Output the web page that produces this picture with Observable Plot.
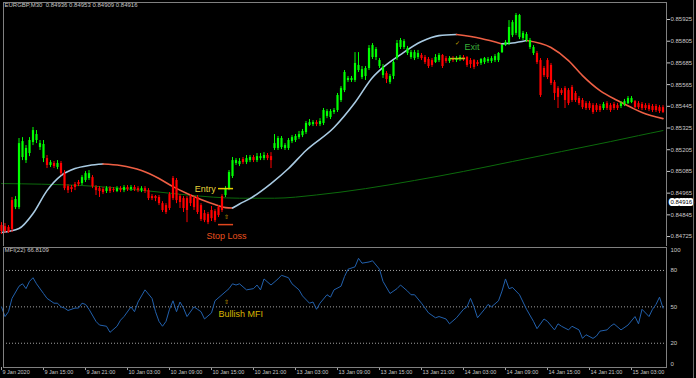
<!DOCTYPE html>
<html><head><meta charset="utf-8">
<script src="https://cdn.jsdelivr.net/npm/d3@7"></script>
<script src="https://cdn.jsdelivr.net/npm/@observablehq/plot@0.6"></script>
<style>
html,body{margin:0;padding:0;background:#000;}
#chart{position:relative;width:696px;height:378px;background:#000;overflow:hidden;}
#chart svg{position:absolute;left:0;}
#chart::after{content:"";position:absolute;left:693px;top:0;width:1px;height:378px;background:#6a6a6a;}
</style></head><body><div id="chart"></div>
<script>
// ---- EURGBP M30 candles (prices in 1/100000) ----
const open = [
84786,84780,84775,84924,84885,84885,85162,85145,85184,85245,
85256,85217,85156,85156,85118,85129,85107,85129,85073,85001,
84996,85012,85024,85018,85035,85046,85051,84996,84990,84985,
84974,84990,84985,84974,84990,84979,84996,84985,84996,84990,
84979,84990,84979,84946,84946,84941,84907,84896,84957,85046,
85035,84946,84935,84935,84946,84935,84941,84896,84852,84847,
84869,84863,84885,84946,84952,84990,85057,85129,85123,85151,
85134,85145,85162,85145,85156,85156,85173,85167,85212,85212,
85217,85212,85212,85250,85256,85272,85283,85300,85339,85344,
85355,85344,85350,85389,85383,85411,85422,85477,85532,85588,
85588,85588,85643,85604,85610,85654,85715,85715,85665,85615,
85626,85577,85610,85709,85770,85770,85737,85715,85709,85715,
85726,85715,85704,85698,85687,85698,85726,85709,85693,85709,
85698,85704,85715,85715,85698,85698,85687,85682,85687,85693,
85693,85698,85698,85742,85781,85792,85836,85848,85825,85820,
85809,85770,85737,85737,85698,85654,85698,85671,85577,85543,
85532,85543,85532,85549,85516,85488,85477,85460,85460,85449,
85449,85444,85433,85460,85449,85455,85449,85444,85455,85460,
85466,85471,85460,85455,85449,85449,85444,85444,85438,85438];
const high = [
84802,84797,84786,84941,84946,85267,85272,85228,85272,85328,
85311,85256,85256,85173,85145,85140,85145,85140,85090,85012,
85007,85024,85035,85062,85084,85090,85062,85007,85001,84996,
85001,85001,84996,85001,85001,85007,85007,85007,85007,85001,
85001,85001,84990,84957,84952,84952,84918,84907,84968,85057,
85046,84957,84946,84946,84957,84946,84952,84907,84869,84858,
84891,84874,84896,84957,85001,85090,85162,85156,85156,85162,
85173,85173,85173,85184,85184,85189,85184,85189,85289,85278,
85278,85239,85267,85283,85289,85306,85317,85361,85372,85366,
85366,85377,85433,85427,85427,85433,85516,85554,85643,85610,
85610,85742,85742,85665,85665,85781,85792,85770,85709,85676,
85637,85621,85698,85809,85820,85814,85776,85754,85754,85754,
85737,85726,85715,85709,85731,85737,85731,85720,85720,85720,
85720,85726,85726,85720,85709,85704,85698,85709,85715,85715,
85720,85731,85742,85787,85809,85919,85919,85958,85953,85859,
85853,85820,85781,85748,85709,85665,85709,85682,85588,85554,
85543,85554,85543,85560,85527,85499,85488,85471,85471,85460,
85460,85455,85466,85471,85460,85466,85460,85471,85483,85499,
85499,85477,85471,85466,85460,85460,85455,85455,85449,85449];
const low = [
84736,84742,84742,84747,84874,84874,85145,85129,85167,85228,
85239,85201,85134,85101,85107,85101,85095,85062,84979,84963,
84968,84979,85001,85007,85024,85035,84990,84952,84941,84957,
84963,84963,84968,84968,84968,84968,84974,84974,84974,84968,
84968,84963,84924,84924,84918,84896,84858,84847,84869,84924,
84907,84880,84858,84802,84891,84869,84847,84808,84802,84791,
84808,84802,84830,84858,84941,84979,85046,85118,85112,85123,
85123,85134,85134,85134,85145,85145,85145,85101,85201,85201,
85206,85201,85201,85239,85245,85261,85272,85289,85333,85333,
85333,85333,85339,85377,85372,85400,85411,85466,85521,85577,
85577,85577,85632,85593,85588,85643,85704,85698,85654,85599,
85571,85566,85593,85698,85759,85759,85726,85704,85698,85704,
85698,85676,85654,85660,85682,85687,85654,85682,85682,85687,
85687,85693,85693,85660,85654,85648,85665,85671,85676,85682,
85682,85687,85687,85737,85776,85781,85825,85836,85814,85809,
85798,85759,85726,85676,85494,85604,85593,85560,85477,85433,
85505,85433,85449,85466,85466,85449,85427,85422,85422,85400,
85411,85411,85422,85422,85411,85422,85422,85433,85444,85455,
85460,85433,85427,85422,85422,85416,85411,85411,85405,85405];
const close = [
84753,84753,84747,84764,84930,85239,85250,85212,85256,85311,
85289,85239,85234,85118,85134,85112,85129,85073,84990,84979,
84985,84996,85012,85051,85073,85073,85001,84979,84974,84968,
84990,84974,84979,84990,84979,84996,84985,84996,84985,84979,
84990,84974,84935,84935,84935,84907,84869,84858,84880,84935,
84924,84913,84880,84869,84907,84885,84858,84819,84813,84802,
84824,84813,84841,84869,84990,85079,85145,85145,85140,85134,
85156,85162,85145,85167,85167,85173,85156,85145,85239,85267,
85267,85228,85256,85272,85278,85289,85306,85350,85355,85355,
85344,85361,85422,85416,85416,85422,85505,85543,85632,85599,
85599,85682,85671,85648,85654,85765,85781,85759,85698,85660,
85593,85610,85687,85792,85809,85803,85765,85742,85742,85737,
85709,85687,85665,85671,85715,85726,85665,85693,85709,85698,
85709,85715,85704,85671,85676,85660,85676,85704,85709,85704,
85709,85720,85737,85781,85798,85881,85908,85947,85947,85848,
85842,85809,85770,85687,85505,85615,85604,85571,85516,85494,
85516,85477,85460,85477,85477,85460,85438,85433,85433,85411,
85422,85422,85455,85433,85422,85433,85433,85460,85471,85488,
85488,85438,85438,85433,85433,85427,85422,85422,85416,85411];

// ---- fast smoothed MA (sampled at bar index) ----
const maIdx = [0,5,9,13,17,21,25,29,34,40,45,49,53,57,61,64,66,68,71,77,82,87,95,101,106,109,114,120,125,130,137,143,146,150,157,162,166,171,176,180,183,189];
const maVal = [84747,84769,84852,84979,85062,85101,85118,85126,85118,85090,85046,85001,84963,84930,84902,84885,84883,84905,84935,85018,85101,85201,85328,85466,85604,85660,85731,85803,85836,85842,85820,85790,85795,85809,85770,85698,85615,85532,85477,85438,85411,85377];
// ---- slow MA ----
const slowIdx = [0,23,43,53,68,78,90,104,118,132,146,160,174,182,189];
const slowVal = [85018,85007,84975,84955,84937,84937,84955,84990,85035,85085,85140,85195,85250,85283,85311];

// ---- MFI(22) ----
const mfiIdx = [0,1,2,3,5,6,7,8,9,10,12,13,15,16,17,18,19,21,22,23,24,25,27,28,30,31,33,34,35,37,38,39,41,43,44,45,46,47,48,49,50,51,52,53,55,56,57,58,60,61,63,65,66,67,68,70,72,73,74,75,77,79,80,82,83,85,86,88,89,90,91,93,94,95,97,98,99,101,102,103,105,106,108,109,111,113,114,116,117,118,120,122,124,125,127,128,130,132,133,134,135,136,138,139,140,142,143,144,145,146,148,150,152,153,155,156,158,159,160,162,163,165,166,167,169,170,171,173,174,175,177,179,181,182,183,185,186,187,188,189];
const mfiVal = [50,42,46,57,67,69,65,71,74,69,
61,57,53,53,50,49,47,49,49,53,
52,48,38,35,34,29,34,39,42,50,
46,54,64,57,46,38,34,38,48,55,
46,54,49,42,50,48,46,40,45,55,
60,65,69,68,69,64,65,68,64,73,
68,73,76,74,69,64,59,53,54,48,
53,60,58,64,67,75,81,83,90,86,
87,88,81,71,61,65,68,63,60,60,
53,45,41,42,40,36,41,48,50,57,
50,41,48,52,50,55,63,73,65,66,
60,48,38,32,40,38,31,36,34,31,
34,31,24,27,24,26,30,31,34,36,
31,35,42,36,48,42,48,52,58,49];
const mfiLevels = [80, 50, 20];
const mfiEnds = [100, 0];

// ---- axes ----
const priceTicks = [0.85925,0.85805,0.85685,0.85565,0.85445,0.85325,0.85205,0.85085,0.84965,0.84845,0.84725];
const lastPrice = 0.84916;
const xTickBars = [0,12,24,36,48,60,72,84,96,108,120,132,144,156,168,180];
const xTickLabels = ["9 Jan 2020","9 Jan 15:00","9 Jan 21:00","10 Jan 03:00","10 Jan 09:00","10 Jan 15:00","10 Jan 21:00","13 Jan 03:00","13 Jan 09:00","13 Jan 15:00","13 Jan 21:00","14 Jan 03:00","14 Jan 09:00","14 Jan 15:00","14 Jan 21:00","15 Jan 03:00"];
const symbolText = "EURGBP,M30";
const ohlcText = ["0.84936","0.84953","0.84909","0.84916"];
const mfiTitle = "MFI(22) 66.8109";

// ---- annotations ----
const levelNames = ["entry","stop","exit"];
const levelPrice = [0.84990, 0.84791, 0.85709];
const levelFrom = [62, 62, 128.3];
const levelTo = [66.3, 66.3, 132.6];
const noteText = ["Entry","Stop Loss","Exit"];
const noteBar = [61.2, 64.3, 132.3];
const notePrice = [0.84990, 0.84730, 0.85770];
const arrowBar = [64.3];
const arrowPrice = [0.84830];
const checkBar = [130.3];
const checkPrice = [0.85792];
const mfiNoteBar = 62;
const mfiNoteVal = 44;
const mfiArrowVal = 54;

// ---- build ----
const FONT = "'Liberation Sans', Arial, sans-serif";
const UP = "#00ff00", DOWN = "#ff0000";
const bars = close.map((c, i) => ({i, o: open[i]/1e5, h: high[i]/1e5, l: low[i]/1e5, c: c/1e5}));
const candleColor = d => d.c >= d.o ? UP : DOWN;
const maPts = maIdx.map((i, k) => ({i, v: maVal[k]/1e5}));
const runs = [];
for (let k = 1; k < maPts.length; k++) {
  const up = maPts[k].v > maPts[k-1].v;
  if (!runs.length || runs[runs.length-1].up !== up) runs.push({up, pts: [maPts[k-1]]});
  runs[runs.length-1].pts.push(maPts[k]);
}
const slowPts = slowIdx.map((i, k) => ({i, v: slowVal[k]/1e5}));
const levels = levelNames.map((n, k) => ({n, p: levelPrice[k], a: levelFrom[k], b: levelTo[k]}));
const notes = noteText.map((t, k) => ({t, i: noteBar[k], p: notePrice[k]}));
const xDomain = [0.57, 190];

const main = Plot.plot({
  width: 696, height: 246,
  marginLeft: 3, marginRight: 30, marginTop: 2, marginBottom: 0,
  style: {background: "#000", color: "#c8c8c8", fontFamily: FONT, fontSize: "6px", overflow: "visible"},
  x: {domain: xDomain, axis: null},
  y: {domain: [0.84670, 0.86019], axis: "right", ticks: priceTicks, tickFormat: d => d.toFixed(5), tickSize: 3, tickPadding: 1, label: null},
  color: {type: "identity"},
  marks: [
    Plot.line(slowPts, {x: "i", y: "v", stroke: "#0c6a0c", strokeWidth: 1, curve: "monotone-x"}),
    ...runs.map(r => Plot.line(r.pts, {x: "i", y: "v", stroke: r.up ? "#a9cbe3" : "#ee5f44", strokeWidth: 1.6, curve: "monotone-x"})),
    Plot.ruleX(bars, {x: "i", y1: "l", y2: "h", stroke: candleColor, strokeWidth: 1}),
    Plot.ruleX(bars, {x: "i", y1: "o", y2: "c", stroke: candleColor, strokeWidth: 2.2}),
    Plot.ruleY(levels, {y: "p", x1: "a", x2: "b", stroke: d => d.n === "entry" ? "#e8d200" : d.n === "stop" ? "#e0461e" : "#b4c814", strokeWidth: 1.5}),
    Plot.text([notes[0]], {x: "i", y: "p", text: "t", textAnchor: "end", fill: "#e8d43c", fontSize: 9, fontFamily: FONT}),
    Plot.text([notes[1]], {x: "i", y: "p", text: "t", textAnchor: "middle", fill: "#e8501e", fontSize: 9, fontFamily: FONT}),
    Plot.text([notes[2]], {x: "i", y: "p", text: "t", textAnchor: "start", fill: "#38b038", fontSize: 9, fontFamily: FONT}),
    Plot.text(arrowBar, {x: d => d, y: (d, k) => arrowPrice[k], text: () => "\u21e7", fill: "#d8b000", fontSize: 6, fontFamily: "DejaVu Sans"}),
    Plot.text(checkBar, {x: d => d, y: (d, k) => checkPrice[k], text: () => "\u2713", fill: "#c8a800", fontSize: 6, fontFamily: "DejaVu Sans"}),
    Plot.text([symbolText + "\u00a0\u00a0" + ohlcText.join(" ")], {text: d => d, frameAnchor: "top-left", dx: 1, dy: 3, lineAnchor: "middle", textAnchor: "start", fill: "#c8c8c8"}),
    Plot.text([lastPrice], {y: d => d, text: d => d.toFixed(5), frameAnchor: "right", dx: 4, textAnchor: "start", fill: "#000", stroke: "#fff", strokeWidth: 4}),
    Plot.frame({stroke: "#808080"})
  ]
});

const mfiPts = mfiIdx.map((i, k) => ({i, v: mfiVal[k]}));
const mfi = Plot.plot({
  width: 696, height: 132,
  marginLeft: 3, marginRight: 30, marginTop: 1, marginBottom: 11,
  style: {background: "#000", color: "#c8c8c8", fontFamily: FONT, fontSize: "6px", overflow: "visible"},
  x: {domain: xDomain, axis: null},
  y: {domain: [0, 100], range: [121, -0.3], axis: null},
  marks: [
    Plot.ruleY(mfiLevels, {y: d => d, stroke: "#a0a0a0", strokeDasharray: "1,2"}),
    Plot.line(mfiPts, {x: "i", y: "v", stroke: "#2260ac", strokeWidth: 1}),
    Plot.text([mfiArrowVal], {x: () => 64.3, y: d => d, text: () => "\u21e7", fill: "#d8b000", fontSize: 6, fontFamily: "DejaVu Sans"}),
    Plot.text([mfiNoteVal], {x: () => mfiNoteBar, y: d => d, text: () => "Bullish MFI", textAnchor: "start", fill: "#d8b400", fontSize: 9, fontFamily: FONT}),
    Plot.text(mfiLevels, {y: d => d, text: d => String(d), frameAnchor: "right", dx: 4, textAnchor: "start", fill: "#c8c8c8"}),
    Plot.text([mfiEnds[0]], {y: d => d, text: d => String(d), frameAnchor: "right", dx: 4, dy: 4, textAnchor: "start", fill: "#c8c8c8"}),
    Plot.text([mfiEnds[1]], {y: d => d, text: d => String(d), frameAnchor: "right", dx: 4, dy: -3, textAnchor: "start", fill: "#c8c8c8"}),
    Plot.text([mfiTitle], {text: d => d, frameAnchor: "top-left", dx: 1, dy: 3, lineAnchor: "middle", textAnchor: "start", fill: "#c8c8c8"}),
    Plot.ruleX(xTickBars, {x: d => d, y1: 0, y2: -2.5, stroke: "#a0a0a0"}),
    Plot.text(xTickBars, {x: d => d, text: (d, k) => xTickLabels[k], frameAnchor: "bottom", dx: 1, dy: 5, lineAnchor: "middle", textAnchor: "start", fill: "#c8c8c8", fontSize: 5.5}),
    Plot.frame({stroke: "#808080"})
  ]
});

const root = document.getElementById("chart");
main.style.top = "0px";
mfi.style.top = "246px";
root.append(main, mfi);
</script></body></html>
